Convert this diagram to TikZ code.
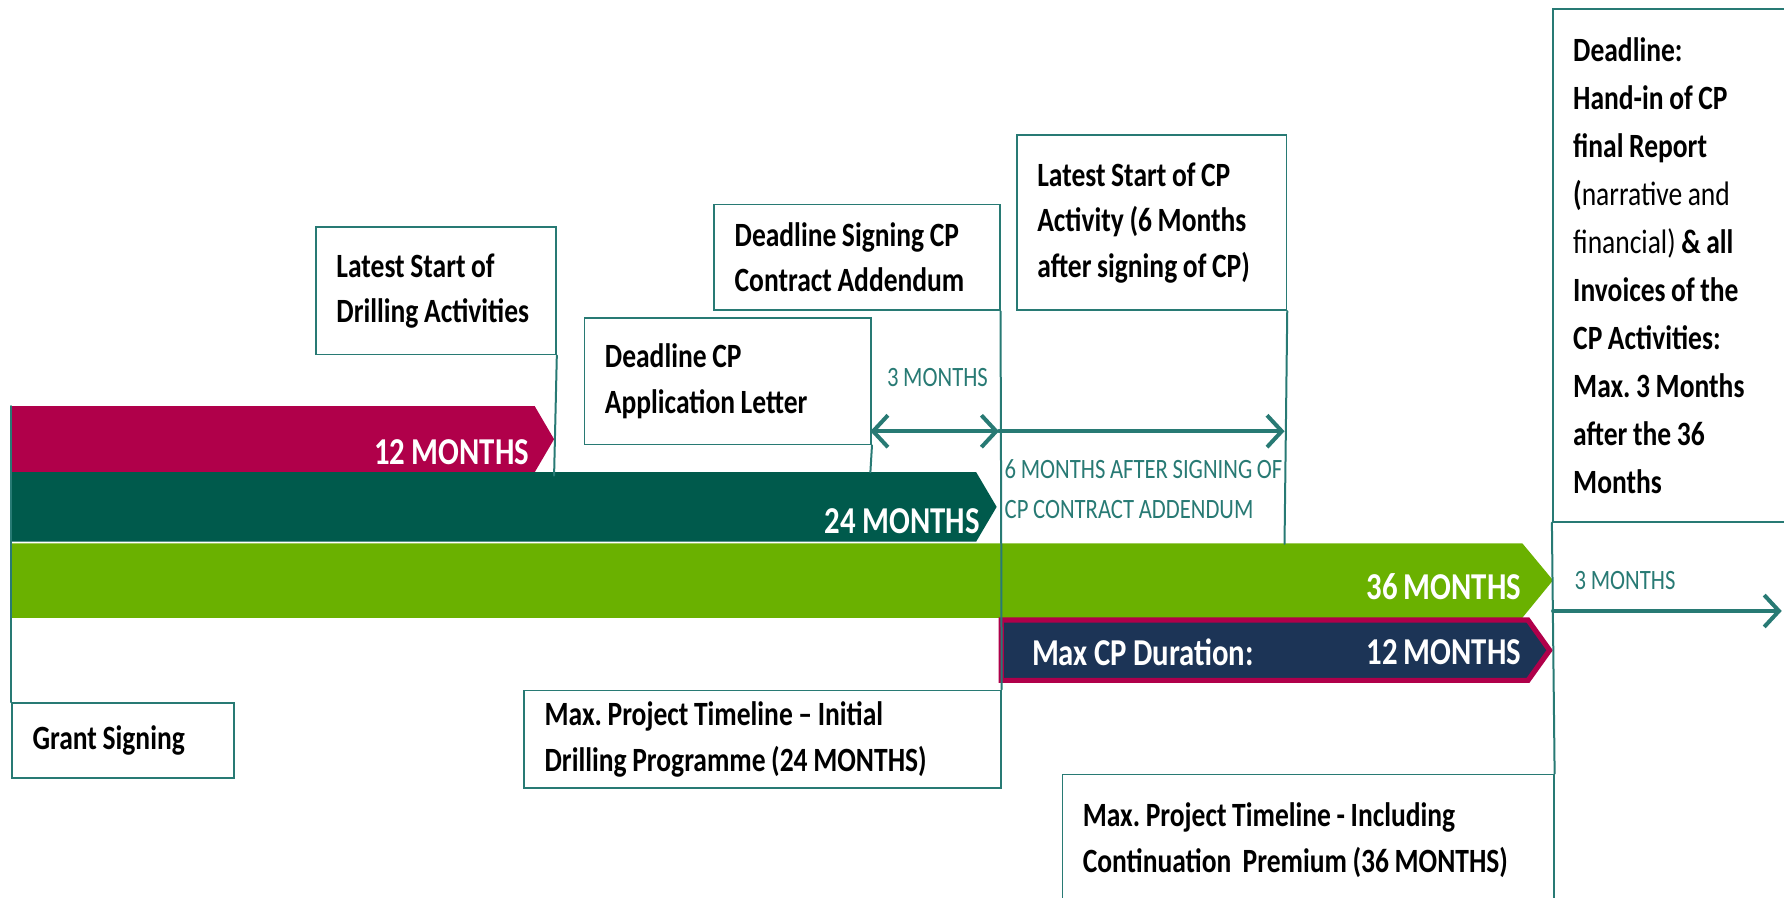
\documentclass[tikz,border=0pt]{standalone}
\usepackage{fontspec}
\setmainfont{Carlito}[FakeStretch=0.81, WordSpace=0.9]
\usetikzlibrary{arrows.meta,positioning}
\definecolor{crimson}{RGB}{176,0,74}
\definecolor{darkgreen}{RGB}{0,90,76}
\definecolor{lightgreen}{RGB}{106,177,0}
\definecolor{navyblue}{RGB}{28,52,86}
\definecolor{tealline}{RGB}{40,122,116}
\frenchspacing

\begin{document}
\begin{tikzpicture}[x=0.1mm, y=-0.1mm, >={Straight Barb[length=1.3mm,width=2.8mm]}, line cap=round, semithick]
   \tikzstyle{note}=[draw=tealline, line width=.4pt, rectangle, anchor=north west, align=left, inner xsep=1.8mm, inner ysep=0pt, text=black, font=\fontsize{8.5}{11.4}\selectfont\bfseries, execute at begin node={\spaceskip=0pt\xspaceskip=0pt\relax}]
   \tikzstyle{barlabel}=[inner sep=0pt, text=white, font=\fontsize{9.5}{11}\selectfont\bfseries]
   \tikzstyle{span}=[inner sep=0pt, text=tealline, align=left, font=\fontsize{7}{9.9}\selectfont]
   \tikzstyle{tick}=[draw=tealline, line width=.5pt]
   \tikzstyle{gap}=[draw=tealline, line width=1pt]

   \useasboundingbox (0,0) rectangle (1568,789);

   \fill[crimson] (10,357) -- (470,357) -- (487,386) -- (470,415) -- (10,415) -- cycle;
   \fill[darkgreen] (10,415) -- (858,415) -- (876,445.5) -- (858,476) -- (10,476) -- cycle;
   \fill[lightgreen] (10,477.5) -- (1338,477.5) -- (1365,510) -- (1338,543) -- (10,543) -- cycle;
   \filldraw[fill=navyblue, draw=crimson, line width=1.3pt] (880,545) -- (1343,545) -- (1362,571.5) -- (1343,598) -- (880,598) -- cycle;

   \node[barlabel, anchor=east] (lbl12) at (466,397) {12 MONTHS};
   \node[barlabel, anchor=east] (lbl24) at (862,458) {24 MONTHS};
   \node[barlabel, anchor=east] (lbl36) at (1338,516) {36 MONTHS};
   \node[barlabel, anchor=west] (lblcp) at (906,573) {Max CP Duration:};
   \node[barlabel, anchor=east] (lblcp12) at (1338,573) {12 MONTHS};

   \node[note, text width=17.5mm, minimum height=11.2mm] (drill) at (277,199) {Latest Start of\\Drilling Activities};
   \node[note, text width=21.6mm, minimum height=11.1mm] (appl) at (513,279) {Deadline CP\\Application Letter};
   \node[note, text width=21.5mm, minimum height=9.3mm] (sign) at (627,179) {Deadline Signing CP\\Contract Addendum};
   \node[note, text width=20.1mm, minimum height=15.4mm] (cpstart) at (893,118) {Latest Start of CP\\Activity (6 Months\\after signing of CP)};
   \node[note, text width=17mm, minimum height=45.1mm, font=\fontsize{8.5}{12}\selectfont\bfseries] (deadline) at (1364,7) {Deadline:\\Hand-in of CP\\final Report\\({\mdseries narrative and}\\{\mdseries financial)} \& all\\Invoices of the\\CP Activities:\\Max. 3 Months\\after the 36\\Months};
   \node[note, text width=15.9mm, minimum height=6.6mm] (grant) at (10,617) {Grant Signing};
   \node[note, text width=38.3mm, minimum height=8.6mm] (initial) at (460,606) {Max. Project Timeline -- Initial\\Drilling Programme (24 MONTHS)};
   \node[note, text width=39.6mm, minimum height=11.5mm] (incl) at (933,680) {Max. Project Timeline - Including\\Continuation~ Premium (36 MONTHS)};

   \node[span] (span3) at (824,332) {3 MONTHS};
   \node[span, anchor=north west] (span6) at (882,403) {6 MONTHS AFTER SIGNING OF\\CP CONTRACT ADDENDUM};
   \node[span, anchor=west] (span3b) at (1383,510) {3 MONTHS};

   \coordinate (c0) at (10,357);
   \coordinate (c12) at (487,418);
   \coordinate (c24) at (765,415);
   \coordinate (c36) at (1129,478);
   \coordinate (a3l) at (765,379);
   \coordinate (a3r) at (878,379);
   \coordinate (a6r) at (1129,379);
   \coordinate (a3s) at (1365,537);
   \coordinate (a3e) at (1566,537);

   \path[tick]
  (grant.north west)
    edge [] (c0)
  (drill.south east)
    edge [] (c12)
  (appl.south east)
    edge [] (c24)
  (sign.south east)
    edge [] (initial.north east)
  (cpstart.south east)
    edge [] (c36)
  (deadline.south west)
    edge [] (incl.north east)
   ;

   \path[gap]
  (a3l)
    edge [<->] (a3r)
  (a3r)
    edge [->] (a6r)
  (a3s)
    edge [->] (a3e)
   ;
\end{tikzpicture}
\end{document}
